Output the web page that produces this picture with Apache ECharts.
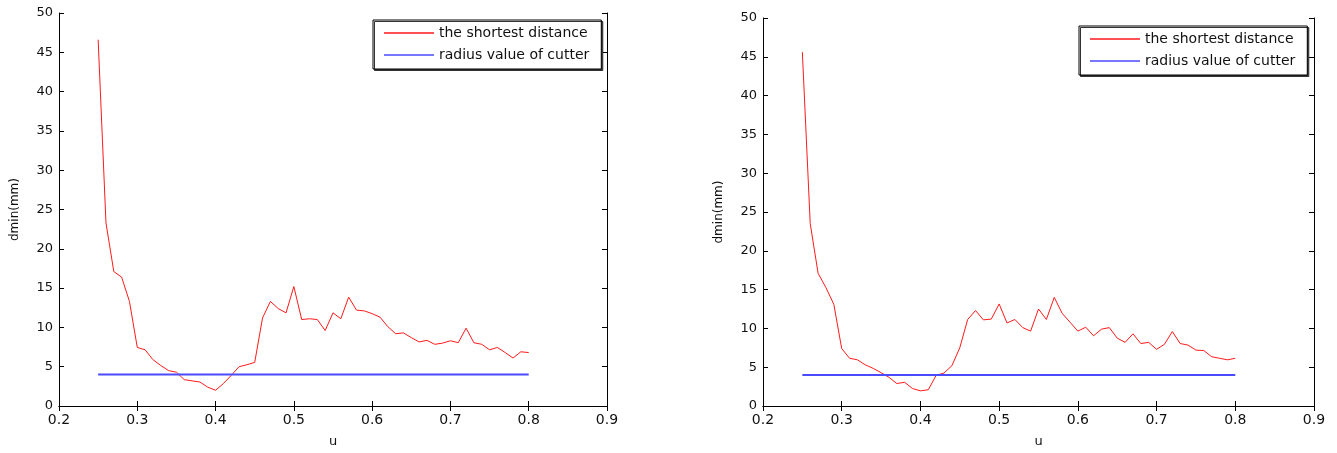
<!DOCTYPE html>
<html>
<head>
<meta charset="utf-8">
<script src="https://cdn.jsdelivr.net/npm/echarts@6/dist/echarts.min.js"></script>
<style>html,body{margin:0;padding:0;background:#fff}#c{width:1337px;height:453px}</style>
</head>
<body>
<div id="c"></div>
<script>
var uValues = [0.25,0.26,0.27,0.28,0.29,0.30,0.31,0.32,0.33,0.34,0.35,0.36,0.37,0.38,0.39,0.40,0.41,0.42,0.43,0.44,0.45,0.46,0.47,0.48,0.49,0.50,0.51,0.52,0.53,0.54,0.55,0.56,0.57,0.58,0.59,0.60,0.61,0.62,0.63,0.64,0.65,0.66,0.67,0.68,0.69,0.70,0.71,0.72,0.73,0.74,0.75,0.76,0.77,0.78,0.79,0.80];
var leftDistance = [46.6,23.3,17.1,16.4,13.3,7.45,7.15,5.9,5.15,4.5,4.3,3.35,3.2,3.05,2.4,2.0,2.85,3.9,5.0,5.25,5.55,11.2,13.3,12.4,11.85,15.2,11.0,11.1,11.0,9.6,11.85,11.1,13.85,12.2,12.1,11.75,11.3,10.1,9.2,9.3,8.7,8.15,8.35,7.85,8.0,8.3,8.05,9.9,8.05,7.85,7.15,7.45,6.8,6.1,6.9,6.8];
var rightDistance = [45.6,23.5,17.1,15.25,13.1,7.4,6.15,5.95,5.3,4.85,4.3,3.7,2.9,3.05,2.25,1.95,2.1,3.95,4.25,5.2,7.5,11.15,12.3,11.1,11.2,13.15,10.7,11.15,10.1,9.65,12.5,11.15,14.0,11.95,10.8,9.65,10.15,9.05,9.9,10.1,8.75,8.2,9.3,8.05,8.2,7.3,7.95,9.6,8.05,7.85,7.2,7.15,6.35,6.15,5.95,6.15];
var cutterRadius = 4;
var cutterRange = [0.25, 0.80];
var xTicks = {min: 0.2, max: 0.9, interval: 0.1};
var yTicks = {min: 0, max: 50, interval: 5};
var seriesNames = ['the shortest distance', 'radius value of cutter'];
var xName = 'u';
var yName = 'dmin(mm)';

var FONT = 'DejaVu Sans';
var RED = '#ff1a1a', BLUE = '#4a4aff';
function pairs(xs, ys){ return xs.map(function(x,i){ return [x, ys[i]]; }); }

var grids = [
  {left: 59, top: 13, width: 548, height: 398},
  {left: 763, top: 18, width: 551, height: 394}
];

var xAxes = [], yAxes = [], series = [], legends = [];
var legendPos = [{left: 373, top: 20}, {left: 1079, top: 26}];
var dataSets = [leftDistance, rightDistance];

grids.forEach(function(g, gi){
  var lineStyle = {color: '#000', width: 1};
  xAxes.push({
    type: 'value', gridIndex: gi, position: 'bottom',
    min: xTicks.min, max: xTicks.max, interval: xTicks.interval,
    name: xName, nameLocation: 'middle', nameGap: 29,
    nameTextStyle: {fontFamily: FONT, fontSize: 13, color: '#111'},
    axisLine: {show: true, lineStyle: lineStyle},
    axisTick: {show: true, inside: true, length: 5, lineStyle: lineStyle},
    axisLabel: {fontFamily: FONT, fontSize: 14, color: '#111', margin: 7},
    splitLine: {show: false}
  });
  xAxes.push({
    type: 'value', gridIndex: gi, position: 'top',
    min: xTicks.min, max: xTicks.max, interval: xTicks.interval,
    axisLine: {show: true, lineStyle: lineStyle},
    axisTick: {show: true, inside: true, length: 5, lineStyle: lineStyle},
    axisLabel: {show: false},
    splitLine: {show: false}
  });
  yAxes.push({
    type: 'value', gridIndex: gi, position: 'left',
    min: yTicks.min, max: yTicks.max, interval: yTicks.interval,
    name: yName, nameLocation: 'middle', nameGap: 38, nameRotate: 90,
    nameTextStyle: {fontFamily: FONT, fontSize: 12, color: '#111'},
    axisLine: {show: true, lineStyle: lineStyle},
    axisTick: {show: true, inside: true, length: 5, lineStyle: lineStyle},
    axisLabel: {fontFamily: FONT, fontSize: 13, color: '#111', margin: 6},
    splitLine: {show: false}
  });
  yAxes.push({
    type: 'value', gridIndex: gi, position: 'right',
    min: yTicks.min, max: yTicks.max, interval: yTicks.interval,
    axisLine: {show: true, lineStyle: lineStyle},
    axisTick: {show: true, inside: true, length: 5, lineStyle: lineStyle},
    axisLabel: {show: false},
    splitLine: {show: false}
  });
  series.push({
    name: seriesNames[0], type: 'line', xAxisIndex: gi*2, yAxisIndex: gi*2,
    data: pairs(uValues, dataSets[gi]), symbol: 'none', silent: true,
    lineStyle: {color: RED, width: 1}, itemStyle: {color: RED}
  });
  series.push({
    name: seriesNames[1], type: 'line', xAxisIndex: gi*2, yAxisIndex: gi*2,
    data: [[cutterRange[0], cutterRadius], [cutterRange[1], cutterRadius]],
    symbol: 'none', silent: true,
    lineStyle: {color: BLUE, width: 2}, itemStyle: {color: BLUE}
  });
  legends.push({
    left: legendPos[gi].left, top: legendPos[gi].top,
    orient: 'vertical', data: seriesNames,
    icon: 'rect',
    itemWidth: 50, itemHeight: 1.5, itemGap: 8,
    padding: [6, 12, 7, 11],
    borderColor: '#000', borderWidth: 1, backgroundColor: '#fff',
    shadowColor: '#333', shadowOffsetX: 1.5, shadowOffsetY: 1.5, shadowBlur: 0,
    borderRadius: 0,
    selectedMode: false,
    textStyle: {fontFamily: FONT, fontSize: 14, color: '#111', lineHeight: 14}
  });
});

var chart = echarts.init(document.getElementById('c'), null, {renderer: 'canvas'});
chart.setOption({
  animation: false,
  backgroundColor: '#fff',
  grid: grids,
  xAxis: xAxes,
  yAxis: yAxes,
  legend: legends,
  series: series
});
</script>
</body>
</html>
